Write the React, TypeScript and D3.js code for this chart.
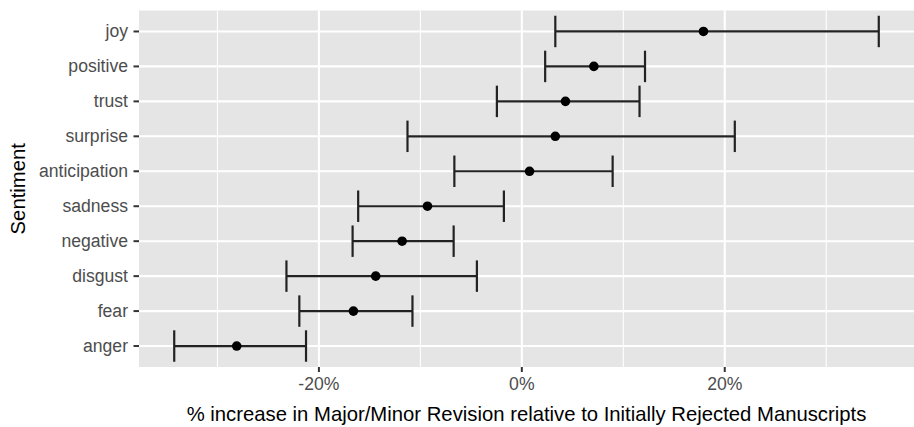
import React from "react";
import * as d3 from "d3";

const categories = ["joy", "positive", "trust", "surprise", "anticipation", "sadness", "negative", "disgust", "fear", "anger"];
const estimate = [17.9, 7.1, 4.3, 3.3, 0.76, -9.3, -11.8, -14.4, -16.6, -28.1];
const lower = [3.3, 2.3, -2.46, -11.27, -6.65, -16.13, -16.68, -23.2, -21.93, -34.26];
const upper = [35.18, 12.14, 11.6, 20.99, 8.95, -1.77, -6.72, -4.43, -10.78, -21.27];
const majorTicks = [-20, 0, 20];
const minorTicks = [-30, -10, 10, 30];

const W = 914;
const H = 427;
const panel = { left: 139, right: 914, top: 10.5, bottom: 367 };
const FONT = "'Liberation Sans', Arial, Helvetica, sans-serif";

export default function App() {
  const lo = d3.min(lower) as number;
  const hi = d3.max(upper) as number;
  const pad = (hi - lo) * 0.05;
  const x = d3.scaleLinear().domain([lo - pad, hi + pad]).range([panel.left, panel.right]);
  const y = d3.scalePoint<string>().domain(categories).range([panel.top, panel.bottom]).padding(0.6);
  const step = y.step();
  const capHalf = (step * 0.9) / 2;
  const fmt = (v: number) => `${v}%`;

  return (
    <svg width={W} height={H} style={{ position: "absolute", left: 0, top: 0, background: "#fff" }} fontFamily={FONT}>
      <rect x={panel.left} y={panel.top} width={panel.right - panel.left} height={panel.bottom - panel.top} fill="#E5E5E5" />
      {minorTicks.map((t) => (
        <line key={"mi" + t} x1={x(t)} x2={x(t)} y1={panel.top} y2={panel.bottom} stroke="#fff" strokeWidth={1.1} />
      ))}
      {majorTicks.map((t) => (
        <line key={"ma" + t} x1={x(t)} x2={x(t)} y1={panel.top} y2={panel.bottom} stroke="#fff" strokeWidth={2.1} />
      ))}
      {categories.map((c) => (
        <line key={"h" + c} x1={panel.left} x2={panel.right} y1={y(c)} y2={y(c)} stroke="#fff" strokeWidth={2.1} />
      ))}
      {categories.map((c, i) => {
        const yy = y(c) as number;
        return (
          <g key={"e" + c} stroke="#222" strokeWidth={2.2}>
            <line x1={x(lower[i])} x2={x(upper[i])} y1={yy} y2={yy} />
            <line x1={x(lower[i])} x2={x(lower[i])} y1={yy - capHalf} y2={yy + capHalf} />
            <line x1={x(upper[i])} x2={x(upper[i])} y1={yy - capHalf} y2={yy + capHalf} />
          </g>
        );
      })}
      {categories.map((c, i) => (
        <circle key={"p" + c} cx={x(estimate[i])} cy={y(c)} r={4.8} fill="#000" />
      ))}
      {categories.map((c) => (
        <g key={"yt" + c}>
          <line x1={panel.left - 5.5} x2={panel.left} y1={y(c)} y2={y(c)} stroke="#333" strokeWidth={2} />
          <text x={panel.left - 11} y={(y(c) as number) + 6} textAnchor="end" fontSize={17.6} fill="#4D4D4D">
            {c}
          </text>
        </g>
      ))}
      {majorTicks.map((t) => (
        <g key={"xt" + t}>
          <line x1={x(t)} x2={x(t)} y1={panel.bottom} y2={panel.bottom + 5} stroke="#333" strokeWidth={2} />
          <text x={x(t)} y={390} textAnchor="middle" fontSize={17.6} fill="#4D4D4D">
            {fmt(t)}
          </text>
        </g>
      ))}
      <text x={(panel.left + panel.right) / 2} y={421} textAnchor="middle" fontSize={20.3} fill="#000">
        % increase in Major/Minor Revision relative to Initially Rejected Manuscripts
      </text>
      <text
        transform={`translate(25, ${(panel.top + panel.bottom) / 2}) rotate(-90)`}
        textAnchor="middle"
        fontSize={20.3}
        fill="#000"
      >
        Sentiment
      </text>
    </svg>
  );
}
